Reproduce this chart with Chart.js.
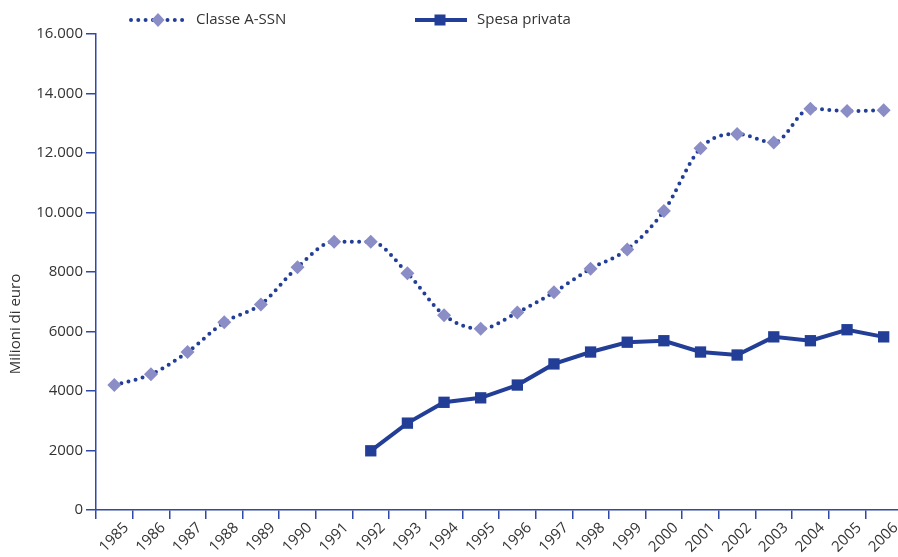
<!DOCTYPE html>
<html>
<head>
<meta charset="utf-8">
<script src="https://cdn.jsdelivr.net/npm/chart.js@4.4.1/dist/chart.umd.min.js"></script>
<style>
  html, body { margin: 0; padding: 0; background: #ffffff; overflow: hidden; }
  #wrap { width: 898px; height: 557px; overflow: hidden; }
</style>
</head>
<body>
<div id="wrap"><canvas id="c" width="910" height="557"></canvas></div>
<script>
// Anni
const years = ['1985','1986','1987','1988','1989','1990','1991','1992','1993','1994','1995',
               '1996','1997','1998','1999','2000','2001','2002','2003','2004','2005','2006'];

// Spesa farmaceutica, milioni di euro
const classeASSN = [4200, 4560, 5310, 6310, 6910, 8160, 9020, 9020, 7960, 6550, 6090,
                    6640, 7320, 8110, 8760, 10050, 12160, 12640, 12350, 13490, 13410, 13440];
const spesaPrivata = [null, null, null, null, null, null, null, 1990, 2920, 3620, 3770,
                      4200, 4910, 5310, 5640, 5690, 5310, 5210, 5820, 5690, 6060, 5820];

const yTicks = [0, 2000, 4000, 6000, 8000, 10000, 12000, 14000, 16000];

const AXIS = '#2f49a6';
const LINE = '#223e96';
const DIAMOND = '#8a8dc6';
const TEXT = '#333333';
const FONT = '"Open Sans", "DejaVu Sans", sans-serif';

function fmt(v) {
  const s = String(v);
  return v >= 10000 ? s.slice(0, s.length - 3) + '.' + s.slice(-3) : s;
}

// Legenda in alto e titolo dell'asse verticale
const extras = {
  id: 'extras',
  afterDraw(chart) {
    const ctx = chart.ctx;
    const y = 20;
    ctx.save();
    // Classe A-SSN
    ctx.strokeStyle = LINE;
    ctx.lineWidth = 4;
    ctx.lineCap = 'round';
    ctx.setLineDash([0, 7.3]);
    ctx.beginPath();
    ctx.moveTo(131, y);
    ctx.lineTo(183, y);
    ctx.stroke();
    ctx.setLineDash([]);
    ctx.fillStyle = DIAMOND;
    ctx.beginPath();
    ctx.moveTo(158 - 6.5, y); ctx.lineTo(158, y - 7); ctx.lineTo(158 + 6.5, y); ctx.lineTo(158, y + 7);
    ctx.closePath();
    ctx.fill();
    // Spesa privata
    ctx.strokeStyle = LINE;
    ctx.lineWidth = 4;
    ctx.lineCap = 'butt';
    ctx.beginPath();
    ctx.moveTo(415, y);
    ctx.lineTo(467, y);
    ctx.stroke();
    ctx.fillStyle = LINE;
    ctx.fillRect(440 - 5.5, y - 5.5, 11, 11);
    // Testi
    ctx.fillStyle = TEXT;
    ctx.font = '15px ' + FONT;
    ctx.textBaseline = 'middle';
    ctx.textAlign = 'left';
    ctx.fillText('Classe A-SSN', 196, y);
    ctx.fillText('Spesa privata', 477, y);
    // Titolo asse Y
    ctx.translate(16, 324);
    ctx.rotate(-Math.PI / 2);
    ctx.textAlign = 'center';
    ctx.fillText('Milioni di euro', 0, 0);
    ctx.restore();
  }
};

new Chart(document.getElementById('c'), {
  type: 'line',
  data: {
    labels: years,
    datasets: [
      {
        label: 'Classe A-SSN',
        data: classeASSN,
        borderColor: LINE,
        borderWidth: 4,
        borderDash: [0, 7.3],
        borderCapStyle: 'round',
        cubicInterpolationMode: 'monotone',
        pointStyle: 'rectRot',
        pointRadius: 7,
        pointBackgroundColor: DIAMOND,
        pointBorderColor: DIAMOND,
        pointBorderWidth: 0,
        order: 1
      },
      {
        label: 'Spesa privata',
        data: spesaPrivata,
        borderColor: LINE,
        borderWidth: 4,
        tension: 0,
        pointStyle: 'rect',
        pointRadius: 8,
        pointBackgroundColor: LINE,
        pointBorderColor: LINE,
        pointBorderWidth: 0,
        spanGaps: false,
        order: 2
      }
    ]
  },
  options: {
    responsive: false,
    animation: false,
    devicePixelRatio: 1,
    layout: { padding: { top: 34, left: 0, right: 0, bottom: 0 } },
    plugins: {
      legend: { display: false },
      tooltip: { enabled: false }
    },
    scales: {
      x: {
        type: 'category',
        offset: true,
        grid: {
          offset: true,
          drawOnChartArea: false,
          drawTicks: true,
          tickLength: 9,
          color: AXIS,
          lineWidth: 1.5
        },
        border: { display: true, color: AXIS, width: 1.5 },
        ticks: {
          autoSkip: false,
          minRotation: 45,
          maxRotation: 45,
          color: TEXT,
          font: { family: FONT, size: 15 },
          padding: 0,
          labelOffset: 12
        },
        afterFit(scale) { scale.height = 47; }
      },
      y: {
        min: 0,
        max: 16000,
        afterBuildTicks(scale) { scale.ticks = yTicks.map(v => ({ value: v })); },
        grid: {
          drawOnChartArea: false,
          drawTicks: true,
          tickLength: 10,
          color: AXIS,
          lineWidth: 1.5
        },
        border: { display: true, color: AXIS, width: 1.5 },
        ticks: {
          color: TEXT,
          font: { family: FONT, size: 15 },
          padding: 3,
          callback: v => fmt(v)
        },
        afterFit(scale) { scale.width = 96; }
      }
    }
  },
  plugins: [extras]
});
</script>
</body>
</html>
